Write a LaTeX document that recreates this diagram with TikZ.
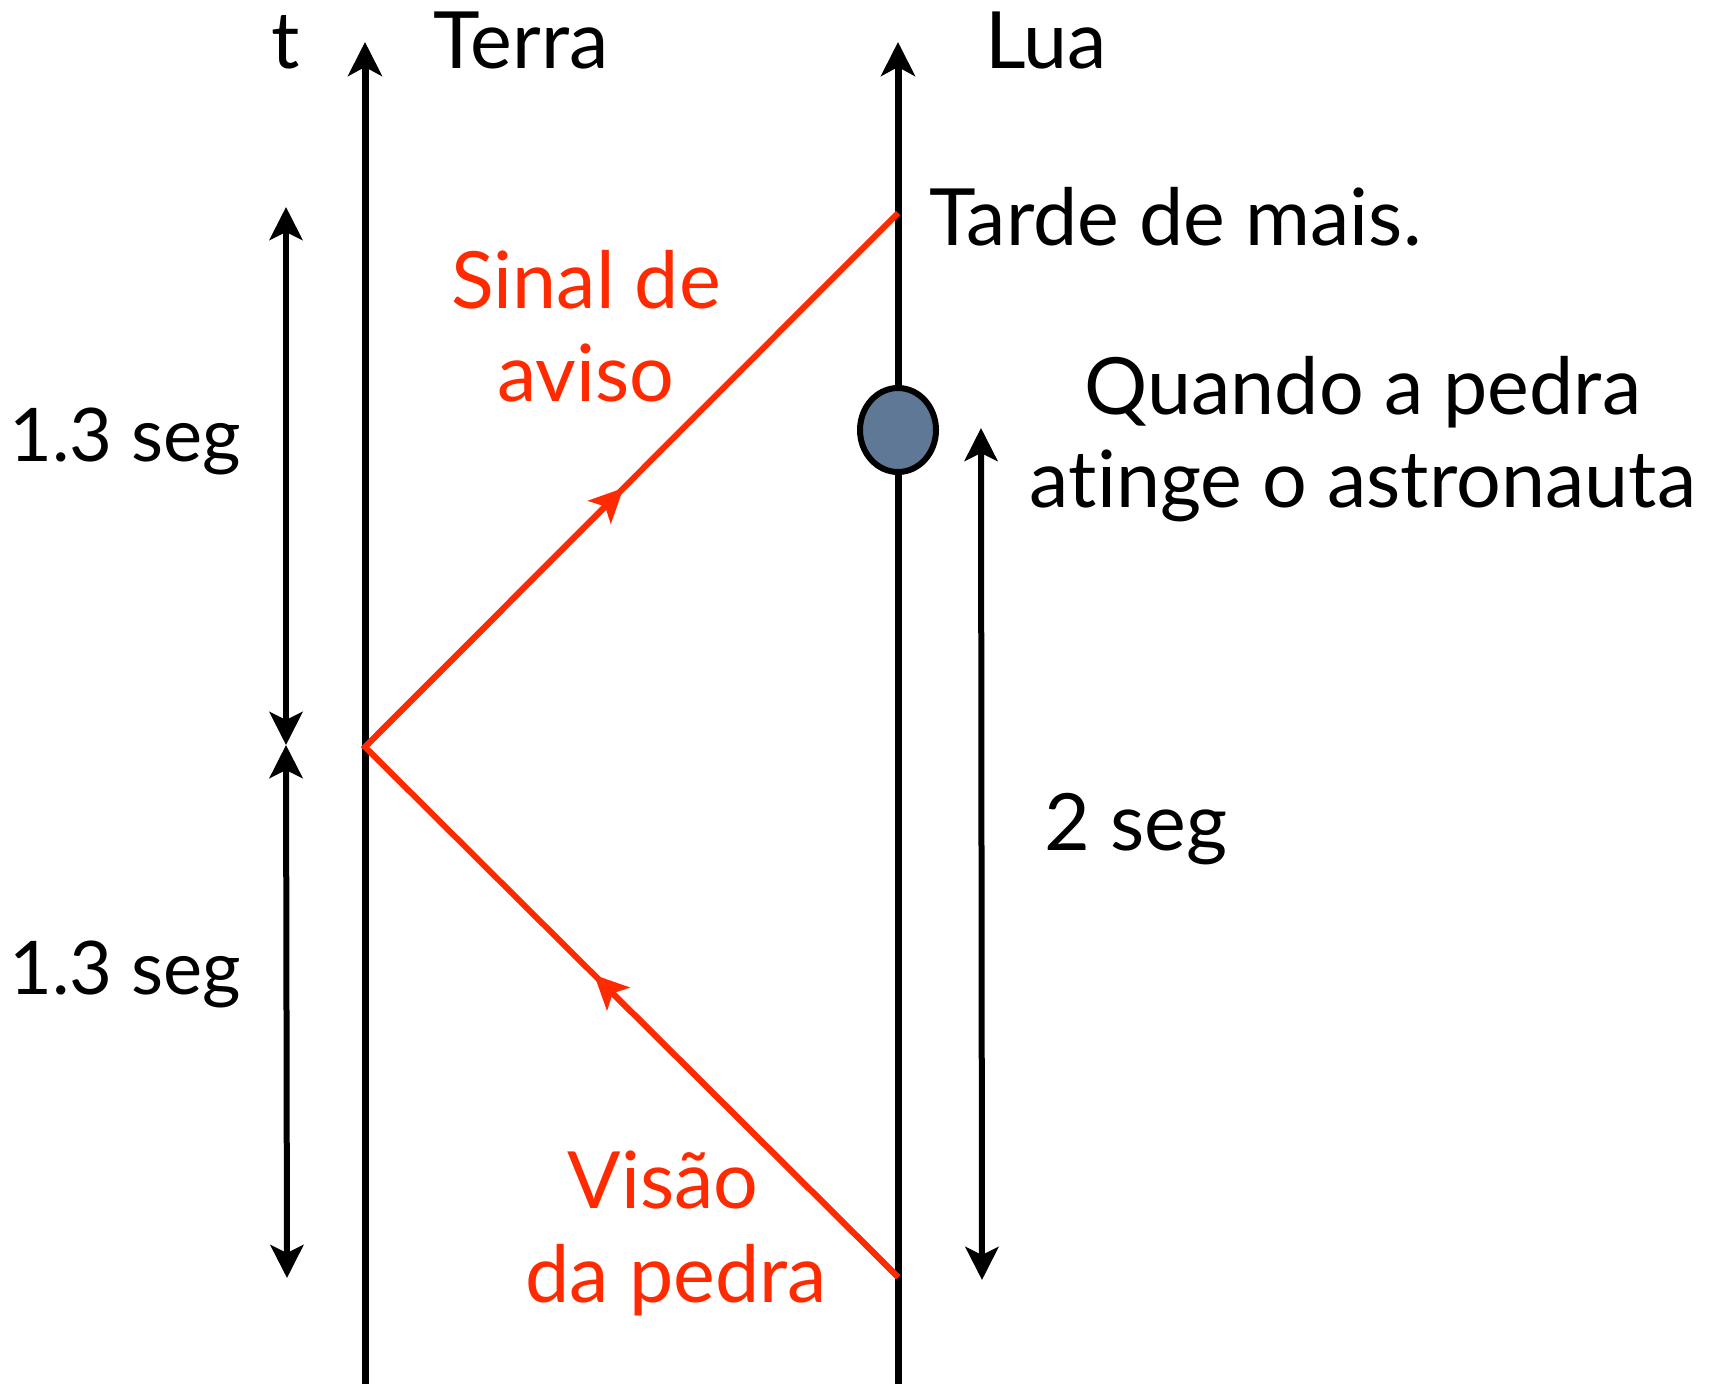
\documentclass[tikz,border=0pt]{standalone}
\usepackage{fontspec}
\setmainfont{Lato}[Ligatures={NoCommon}]
\usetikzlibrary{arrows.meta,calc,shapes.geometric}
\definecolor{sigred}{HTML}{FF2A00}
\definecolor{rock}{HTML}{5F7896}
\begin{document}
\begin{tikzpicture}[x=1pt,y=-1pt,
  wl/.style={line width=7pt,-{Stealth[length=34pt,width=34pt,inset=9pt]}},
  dbl/.style={line width=6pt,{Stealth[length=33pt,width=33pt,inset=8pt]}-{Stealth[length=33pt,width=33pt,inset=8pt]}},
  sig/.style={line width=6pt,draw=sigred},
  lbl/.style={font=\fontsize{79}{94}\selectfont,inner sep=0pt},
  slbl/.style={font=\fontsize{74}{88}\selectfont,inner sep=0pt},
  rlbl/.style={lbl,text=sigred}]
\useasboundingbox (0,0) rectangle (1709,1393);
% world lines
\coordinate (tb) at (365,1384); \coordinate (tt) at (365,42);
\coordinate (lb) at (898,1384); \coordinate (lt) at (898,42);
\draw[wl] (tb) -- (tt);
\draw[wl] (lb) -- (lt);
% signals
\coordinate (see) at (898,1277);
\coordinate (emit) at (365,747);
\coordinate (late) at (898,213);
\draw[sig] (see) -- (emit) -- (late);
\draw[sigred,line width=6pt,-{Stealth[length=34pt,width=32pt,inset=8pt]}] (emit) -- ($(emit)!0.485!(late)$);
\draw[sigred,line width=6pt,-{Stealth[length=34pt,width=32pt,inset=8pt]}] (see) -- ($(see)!0.57!(emit)$);
% rock
\node[ellipse,draw=black,line width=6pt,fill=rock,minimum width=76pt,minimum height=84pt,inner sep=0pt] (rk) at (898,430) {};
% interval arrows
\coordinate (a1) at (286,207); \coordinate (a2) at (286,745); \coordinate (a3) at (287,1278);
\draw[dbl] (a1) -- (a2);
\draw[dbl] (a2) -- (a3);
\coordinate (b1) at (981,428); \coordinate (b2) at (982,1280);
\draw[dbl] (b1) -- (b2);
% labels
\node[lbl,anchor=base] (lt1) at (286,68) {t};
\node[lbl,anchor=base] (lterra) at (521,68) {Terra};
\node[lbl,anchor=base] (llua) at (1046,68) {Lua};
\node[lbl,anchor=base west] (ltarde) at (929,245) {Tarde de mais.};
\node[rlbl,anchor=base] (ls1) at (586,308) {Sinal de};
\node[rlbl,anchor=base] (ls2) at (586,401) {aviso};
\node[slbl,anchor=base west] (l13a) at (9,461) {1.3 seg};
\node[slbl,anchor=base west] (l13b) at (9,994) {1.3 seg};
\node[lbl,anchor=base] (lq1) at (1363,414) {Quando a pedra};
\node[lbl,anchor=base] (lq2) at (1363,507) {atinge o astronauta};
\node[lbl,anchor=base west] (l2s) at (1044,850) {2 seg};
\node[rlbl,anchor=base] (lv1) at (663,1208) {Visão};
\node[rlbl,anchor=base] (lv2) at (676,1302) {da pedra};
\end{tikzpicture}
\end{document}
